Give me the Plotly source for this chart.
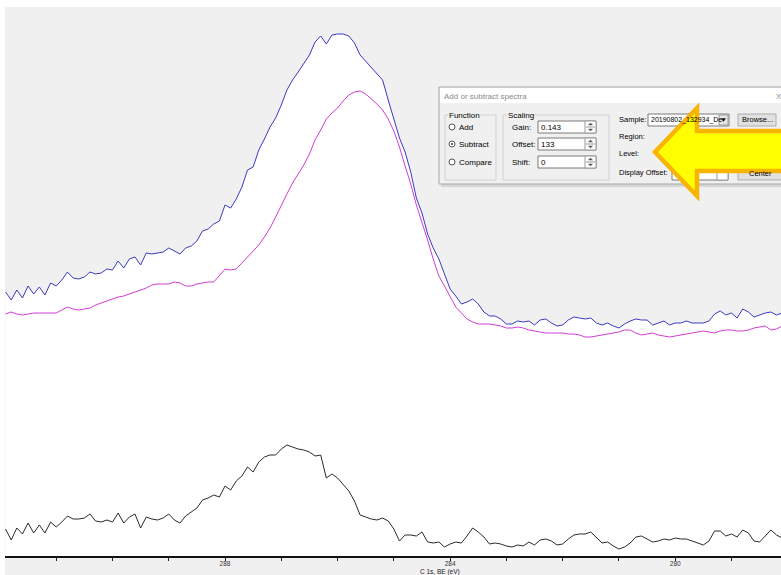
import plotly.graph_objects as go

# Binding-energy grid of the C 1s region (eV), 0.1 eV steps, high BE on the left
BE_START = 291.9
BE_STEP = 0.1

# Measured spectrum (blue)
measured = [
    264, 256, 266, 258, 270, 262, 269, 261, 273, 270,
    276, 284, 278, 277, 279, 284, 282, 283, 287, 286,
    295, 288, 297, 299, 291, 303, 302, 303, 304, 308,
    305, 302, 308, 310, 315, 325, 327, 332, 335, 351,
    348, 357, 369, 386, 389, 406, 417, 429, 438, 451,
    466, 476, 484, 492, 501, 514, 520, 512, 521, 522,
    522, 520, 513, 501, 495, 488, 483, 476, 456, 438,
    418, 404, 384, 358, 343, 322, 308, 297, 282, 267,
    260, 252, 254, 257, 252, 244, 240, 240, 237, 232,
    232, 235, 234, 235, 231, 236, 237, 233, 230, 231,
    236, 239, 238, 237, 238, 233, 231, 233, 230, 228,
    232, 235, 237, 236, 236, 231, 233, 235, 231, 233,
    233, 235, 233, 233, 233, 235, 242, 245, 241, 243,
    238, 247, 244, 239, 241, 243, 244, 241, 243,
]

# Scaled reference spectrum (magenta)
reference = [
    242, 244, 242, 241, 242, 243, 243, 243, 243, 243,
    246, 249, 247, 246, 247, 248, 251, 253, 255, 257,
    259, 260, 262, 264, 266, 268, 271, 272, 272, 272,
    274, 273, 270, 270, 272, 273, 274, 274, 280, 287,
    286, 287, 293, 299, 305, 311, 319, 328, 339, 351,
    362, 373, 382, 391, 402, 416, 426, 437, 443, 448,
    455, 461, 464, 465, 462, 457, 452, 446, 437, 425,
    409, 390, 372, 351, 334, 316, 297, 280, 270, 259,
    249, 243, 237, 234, 232, 232, 232, 231, 230, 228,
    228, 229, 228, 226, 225, 224, 223, 223, 223, 223,
    222, 222, 221, 219, 219, 220, 221, 222, 223, 224,
    226, 226, 223, 221, 222, 223, 221, 220, 219, 220,
    221, 222, 223, 224, 225, 224, 223, 225, 226, 226,
    225, 225, 226, 228, 229, 230, 226, 227, 230,
]

# Difference spectrum (black)
difference = [
    27, 16, 28, 22, 33, 23, 31, 23, 34, 29,
    34, 40, 37, 37, 38, 42, 35, 34, 36, 34,
    43, 33, 39, 42, 28, 39, 37, 36, 38, 42,
    36, 33, 40, 44, 48, 56, 58, 61, 59, 70,
    66, 75, 80, 89, 84, 94, 99, 101, 101, 107,
    111, 109, 107, 106, 104, 100, 101, 78, 82, 78,
    72, 65, 55, 41, 39, 37, 36, 38, 35, 27,
    15, 21, 21, 20, 24, 14, 13, 14, 9, 12,
    14, 13, 20, 28, 24, 19, 12, 13, 12, 10,
    9, 11, 10, 14, 11, 16, 17, 15, 11, 12,
    17, 21, 22, 22, 24, 18, 13, 14, 10, 7,
    9, 13, 19, 20, 17, 14, 15, 17, 16, 18,
    17, 17, 15, 13, 11, 15, 25, 25, 20, 22,
    19, 26, 23, 15, 14, 20, 26, 21, 18,
]

TICK_VALUES = list(range(279, 292))
LABELLED = {288: "288", 284: "284", 280: "280"}
AXIS_TITLE = "C 1s, BE (eV)"


def energies(n):
    return [round(BE_START - BE_STEP * i, 2) for i in range(n)]


fig = go.Figure()
fig.add_trace(go.Scatter(
    x=energies(len(measured)), y=measured, mode="lines",
    line=dict(color="#3a3ac4", width=1), fill="tozeroy", fillcolor="#ffffff",
    hoverinfo="skip", showlegend=False))
fig.add_trace(go.Scatter(
    x=energies(len(reference)), y=reference, mode="lines",
    line=dict(color="#d23cd2", width=1), hoverinfo="skip", showlegend=False))
fig.add_trace(go.Scatter(
    x=energies(len(difference)), y=difference, mode="lines",
    line=dict(color="#2a2a2a", width=1), hoverinfo="skip", showlegend=False))

# ---- page geometry (pixels) -------------------------------------------------
W, H = 781, 575
L, T, B = 5, 7, 19
PW, PH = W - L, H - T - B


def xp(x):
    return (x - L) / PW


def yp(y):
    return (H - B - y) / PH


FONT = "Liberation Sans Narrow, Liberation Sans, Arial, sans-serif"
shapes = []
annotations = []


def rect(x0, y0, x1, y1, fill=None, line="#7a7a7a", width=1, layer="above"):
    shapes.append(dict(type="rect", xref="paper", yref="paper",
                       x0=xp(x0), x1=xp(x1), y0=yp(y1), y1=yp(y0),
                       fillcolor=fill if fill else "rgba(0,0,0,0)",
                       line=dict(color=line, width=width) if width else dict(width=0),
                       layer=layer))


def text(x, y, s, size=8, color="#000000", anchor="left", bg=None):
    annotations.append(dict(xref="paper", yref="paper", x=xp(x), y=yp(y), text=s,
                            showarrow=False, xanchor=anchor, yanchor="middle",
                            font=dict(family=FONT, size=size, color=color),
                            bgcolor=bg, borderpad=0))


def poly(points, fill, line, width):
    d = "M " + " L ".join(f"{xp(a):.5f},{yp(b):.5f}" for a, b in points) + " Z"
    shapes.append(dict(type="path", xref="paper", yref="paper", path=d,
                       fillcolor=fill, line=dict(color=line, width=width),
                       layer="above"))


# white page margins around the grey canvas
rect(0, 0, W + 5, T, fill="#ffffff", width=0)
rect(0, 0, L, H + 5, fill="#ffffff", width=0)

# ---- "Add or subtract spectra" dialog ---------------------------------------
rect(441, 89, 800, 187, fill="#d6d6d6", width=0)
rect(439, 87, 800, 184, fill="#f0f0f0", line="#a8a8a8")
rect(440, 88, 800, 103, fill="#ffffff", width=0)
text(443, 96, "Add or subtract spectra", size=8, color="#8a8a8a")
text(775, 96, "X", size=8, color="#8a8a8a")

# Function group
rect(445, 115, 496, 180, line="#d0d0d0")
text(448, 115, "Function", bg="#f0f0f0")
for yy, label, sel in [(127, "Add", False), (144, "Subtract", True), (162, "Compare", False)]:
    shapes.append(dict(type="circle", xref="paper", yref="paper",
                       x0=xp(449), x1=xp(455), y0=yp(yy + 3), y1=yp(yy - 3),
                       fillcolor="#ffffff", line=dict(color="#555555", width=1),
                       layer="above"))
    if sel:
        shapes.append(dict(type="circle", xref="paper", yref="paper",
                           x0=xp(451), x1=xp(453), y0=yp(yy + 1), y1=yp(yy - 1),
                           fillcolor="#333333", line=dict(width=0), layer="above"))
    text(458, yy, label)

# Scaling group
rect(503, 115, 609, 180, line="#d0d0d0")
text(507, 115, "Scaling", bg="#f0f0f0")
for yy, label, val in [(127, "Gain:", "0.143"), (144, "Offset:", "133"), (162, "Shift:", "0")]:
    text(511, yy, label)
    rect(538, yy - 6, 596, yy + 6, fill="#ffffff", line="#7a7a7a")
    rect(585, yy - 6, 596, yy + 6, fill="#ffffff", line="#9a9a9a")
    shapes.append(dict(type="line", xref="paper", yref="paper",
                       x0=xp(586), x1=xp(595), y0=yp(yy), y1=yp(yy),
                       line=dict(color="#9a9a9a", width=1), layer="above"))
    poly([(588.5, yy - 2), (592.5, yy - 2), (590.5, yy - 4)], "#555555", "#555555", 0.5)
    poly([(588.5, yy + 2), (592.5, yy + 2), (590.5, yy + 4)], "#555555", "#555555", 0.5)
    text(540, yy, val)

# Sample / region / level / offset column
text(618, 119, "Sample:", size=7.5)
rect(648, 114, 729, 126, fill="#ffffff", line="#7a7a7a")
text(650, 120, "20190802_132934_De", size=7)
rect(719, 115, 728, 125, fill="#e6e6e6", line="#9a9a9a")
poly([(721.5, 118.5), (725.5, 118.5), (723.5, 121.5)], "#111111", "#111111", 0.5)
rect(738, 114, 776, 126, fill="#e1e1e1", line="#adadad")
text(757, 120, "Browse...", anchor="center", size=7.5)
text(618, 136, "Region:", size=7.5)
text(618, 154, "Level:", size=7.5)
text(618, 172, "Display Offset:", size=7.5)
rect(672, 166, 728, 180, fill="#ffffff", line="#7a7a7a")
rect(717, 166, 728, 180, fill="#ffffff", line="#9a9a9a")
rect(738, 166, 800, 180, fill="#e1e1e1", line="#adadad")
text(760, 174, "Center", anchor="center", size=7.5)

# highlight arrow pointing at the Level field
poly([(655, 152), (697, 108), (697, 131), (800, 131), (800, 171), (697, 171), (697, 196)],
     "#ffff00", "#f7b500", 4.5)

# ---- axis title at the bottom edge ------------------------------------------
text(440, 571.5, AXIS_TITLE, size=6.5, color="#222222", anchor="center")

fig.update_layout(
    width=W, height=H,
    margin=dict(l=L, r=0, t=T, b=B, pad=0),
    paper_bgcolor="#f0f0f0", plot_bgcolor="#f0f0f0",
    shapes=shapes, annotations=annotations,
    xaxis=dict(range=[BE_START + 0.01, 278.12], autorange=False,
               tickmode="array", tickvals=TICK_VALUES,
               ticktext=[LABELLED.get(v, "") for v in TICK_VALUES],
               ticks="outside", ticklen=3, tickwidth=1, tickcolor="#222222",
               ticklabelstandoff=-3,
               showline=True, linecolor="#111111", linewidth=1.5,
               showgrid=False, zeroline=False,
               tickfont=dict(family=FONT, size=6.5, color="#333333"),
               fixedrange=True),
    yaxis=dict(range=[0, PH], autorange=False, visible=False,
               showgrid=False, zeroline=False, fixedrange=True),
)

fig.write_html("out.html")
